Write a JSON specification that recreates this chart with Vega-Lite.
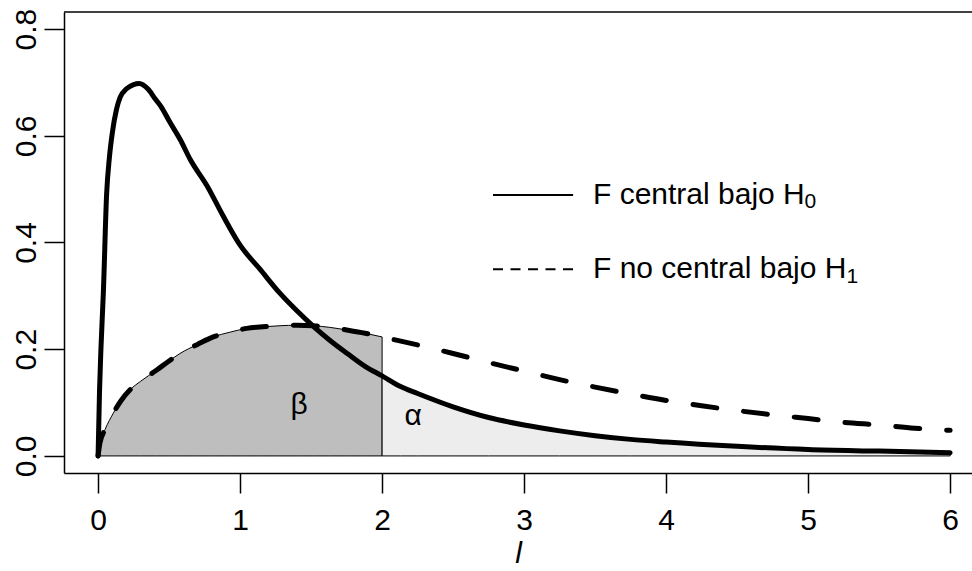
{
  "$schema": "https://vega.github.io/schema/vega-lite/v6.json",
  "width": 908,
  "height": 461,
  "autosize": "none",
  "padding": {"left": 64, "top": 12, "right": 0, "bottom": 98},
  "background": "white",
  "config": {
    "view": {"stroke": null},
    "font": "Liberation Sans",
    "axis": {
      "domainColor": "black",
      "domainWidth": 1.5,
      "tickColor": "black",
      "tickWidth": 1.5,
      "tickSize": 20,
      "labelColor": "black",
      "labelFont": "Liberation Sans",
      "labelFontSize": 30,
      "titleFont": "Liberation Sans",
      "titleFontSize": 30,
      "titleFontWeight": "normal",
      "titleColor": "black",
      "grid": false,
      "labelFlush": false,
      "labelOverlap": false
    }
  },
  "datasets": {
    "central": [
      {"x": 0, "y": 0}, {"x": 0.01, "y": 0.12}, {"x": 0.02, "y": 0.2}, {"x": 0.037, "y": 0.305},
      {"x": 0.06, "y": 0.49}, {"x": 0.08, "y": 0.56}, {"x": 0.1, "y": 0.605}, {"x": 0.13, "y": 0.65},
      {"x": 0.155, "y": 0.672}, {"x": 0.2, "y": 0.688}, {"x": 0.25, "y": 0.696}, {"x": 0.29, "y": 0.698},
      {"x": 0.35, "y": 0.688}, {"x": 0.4, "y": 0.67}, {"x": 0.45, "y": 0.652}, {"x": 0.5, "y": 0.628},
      {"x": 0.58, "y": 0.592}, {"x": 0.65, "y": 0.555}, {"x": 0.77, "y": 0.505}, {"x": 0.88, "y": 0.45},
      {"x": 1.0, "y": 0.395}, {"x": 1.14, "y": 0.35}, {"x": 1.28, "y": 0.305}, {"x": 1.4, "y": 0.272},
      {"x": 1.52, "y": 0.242}, {"x": 1.64, "y": 0.215}, {"x": 1.76, "y": 0.191}, {"x": 1.88, "y": 0.168},
      {"x": 2.0, "y": 0.15}, {"x": 2.13, "y": 0.13}, {"x": 2.25, "y": 0.117}, {"x": 2.5, "y": 0.092},
      {"x": 2.75, "y": 0.072}, {"x": 3.0, "y": 0.058}, {"x": 3.25, "y": 0.047}, {"x": 3.5, "y": 0.038},
      {"x": 3.75, "y": 0.031}, {"x": 4.0, "y": 0.026}, {"x": 4.5, "y": 0.018}, {"x": 5.0, "y": 0.012},
      {"x": 5.5, "y": 0.009}, {"x": 6.0, "y": 0.006}
    ],
    "noncentral": [
      {"x": 0, "y": 0}, {"x": 0.013, "y": 0.024}, {"x": 0.05, "y": 0.05}, {"x": 0.107, "y": 0.08},
      {"x": 0.16, "y": 0.103}, {"x": 0.225, "y": 0.124}, {"x": 0.3, "y": 0.14}, {"x": 0.413, "y": 0.161},
      {"x": 0.5, "y": 0.178}, {"x": 0.577, "y": 0.192}, {"x": 0.7, "y": 0.209}, {"x": 0.811, "y": 0.223},
      {"x": 0.93, "y": 0.232}, {"x": 1.047, "y": 0.239}, {"x": 1.16, "y": 0.242}, {"x": 1.281, "y": 0.244},
      {"x": 1.4, "y": 0.245}, {"x": 1.516, "y": 0.244}, {"x": 1.63, "y": 0.241}, {"x": 1.751, "y": 0.236},
      {"x": 1.88, "y": 0.23}, {"x": 2.0, "y": 0.223}, {"x": 2.25, "y": 0.208}, {"x": 2.5, "y": 0.192},
      {"x": 2.75, "y": 0.175}, {"x": 3.0, "y": 0.159}, {"x": 3.25, "y": 0.143}, {"x": 3.5, "y": 0.129},
      {"x": 3.75, "y": 0.116}, {"x": 4.0, "y": 0.104}, {"x": 4.25, "y": 0.094}, {"x": 4.5, "y": 0.085},
      {"x": 4.75, "y": 0.077}, {"x": 5.0, "y": 0.07}, {"x": 5.25, "y": 0.063}, {"x": 5.5, "y": 0.058},
      {"x": 5.75, "y": 0.052}, {"x": 6.0, "y": 0.048}
    ],
    "greek": [
      {"x": 1.415, "y": 0.079, "label": "β"},
      {"x": 2.218, "y": 0.058, "label": "α"}
    ],
    "legendLines": [
      {"x": 2.781, "x2": 3.345, "y": 0.489, "kind": "central"},
      {"x": 2.781, "x2": 3.345, "y": 0.35, "kind": "noncentral"}
    ],
    "legendText": [
      {"x": 3.485, "y": 0.489, "label": "F central bajo H"},
      {"x": 3.485, "y": 0.35, "label": "F no central bajo H"}
    ],
    "legendSub": [
      {"x": 4.975, "y": 0.475, "label": "0"},
      {"x": 5.27, "y": 0.336, "label": "1"}
    ],
    "frame": [
      {"y": 0.832}
    ]
  },
  "encoding": {
    "x": {"field": "x", "type": "quantitative", "scale": {"domain": [-0.24, 6.154], "nice": false, "zero": false},
      "axis": {"orient": "bottom", "values": [0, 1, 2, 3, 4, 5, 6], "format": "d", "labelPadding": 12, "title": "l", "titleFontStyle": "italic", "titlePadding": 3}},
    "y": {"field": "y", "type": "quantitative", "scale": {"domain": [-0.032, 0.832], "nice": false, "zero": false},
      "axis": {"orient": "left", "values": [0, 0.2, 0.4, 0.6, 0.8], "format": ".1f", "labelAngle": -90, "labelAlign": "center", "labelBaseline": "alphabetic", "labelPadding": 9, "title": null}}
  },
  "layer": [
    {
      "data": {"name": "noncentral"},
      "transform": [{"filter": "datum.x <= 2"}],
      "mark": {"type": "area", "fill": "#BEBEBE", "stroke": "black", "strokeWidth": 1, "opacity": 1, "interpolate": "monotone"}
    },
    {
      "data": {"name": "central"},
      "transform": [{"filter": "datum.x >= 2"}],
      "mark": {"type": "area", "fill": "#EDEDED", "stroke": "black", "strokeWidth": 1, "opacity": 1, "interpolate": "monotone"}
    },
    {
      "data": {"name": "frame"},
      "mark": {"type": "rule", "color": "black", "strokeWidth": 1.5},
      "encoding": {"x": null}
    },
    {
      "data": {"name": "central"},
      "mark": {"type": "line", "color": "black", "strokeWidth": 5, "strokeCap": "round", "strokeJoin": "round", "interpolate": "monotone"}
    },
    {
      "data": {"name": "noncentral"},
      "mark": {"type": "line", "color": "black", "strokeWidth": 5, "strokeCap": "round", "strokeJoin": "round", "strokeDash": [24, 27], "interpolate": "monotone"}
    },
    {
      "data": {"name": "greek"},
      "mark": {"type": "text", "fontSize": 30, "font": "Liberation Sans", "align": "center", "baseline": "alphabetic", "color": "black"},
      "encoding": {"text": {"field": "label"}}
    },
    {
      "data": {"name": "legendLines"},
      "transform": [{"filter": "datum.kind == 'central'"}],
      "mark": {"type": "rule", "color": "black", "strokeWidth": 2},
      "encoding": {"x2": {"field": "x2"}}
    },
    {
      "data": {"name": "legendLines"},
      "transform": [{"filter": "datum.kind == 'noncentral'"}],
      "mark": {"type": "rule", "color": "black", "strokeWidth": 2, "strokeDash": [10, 7.5]},
      "encoding": {"x2": {"field": "x2"}}
    },
    {
      "data": {"name": "legendText"},
      "mark": {"type": "text", "fontSize": 30, "font": "Liberation Sans", "align": "left", "baseline": "middle", "color": "black"},
      "encoding": {"text": {"field": "label"}}
    },
    {
      "data": {"name": "legendSub"},
      "mark": {"type": "text", "fontSize": 21, "font": "Liberation Sans", "align": "left", "baseline": "middle", "color": "black"},
      "encoding": {"text": {"field": "label"}}
    }
  ]
}
